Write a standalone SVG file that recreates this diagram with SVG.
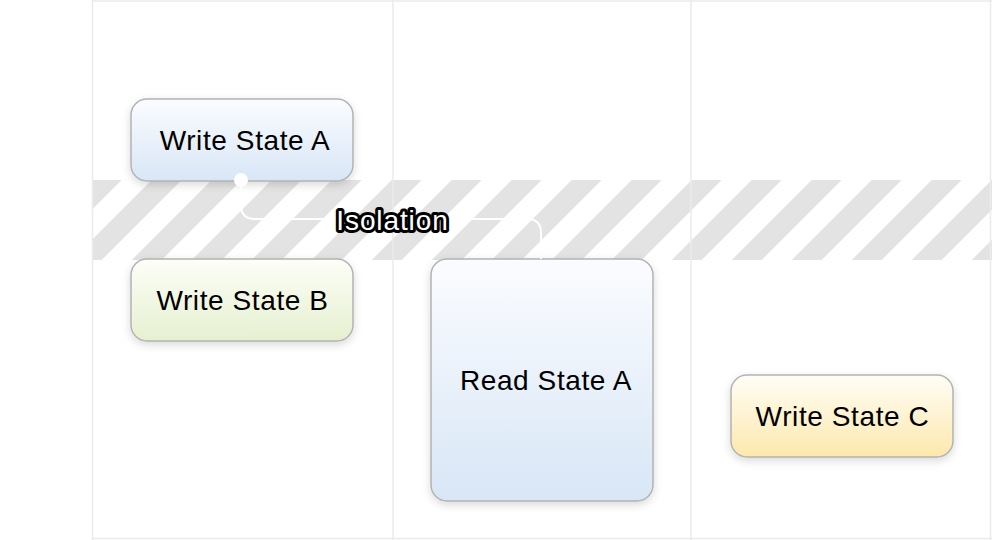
<svg xmlns="http://www.w3.org/2000/svg" width="992" height="540" viewBox="0 0 992 540">
  <defs>
    <pattern id="stripes" width="60" height="80" patternUnits="userSpaceOnUse" patternTransform="translate(31.7,180) skewX(-45)">
      <rect x="0" y="0" width="30" height="80" fill="#e3e3e3"/>
    </pattern>
    <linearGradient id="gBlue" x1="0" y1="0" x2="0" y2="1">
      <stop offset="0" stop-color="#fbfcff"/>
      <stop offset="1" stop-color="#d8e6f6"/>
    </linearGradient>
    <linearGradient id="gGreen" x1="0" y1="0" x2="0" y2="1">
      <stop offset="0" stop-color="#fdfef8"/>
      <stop offset="1" stop-color="#e6f0d0"/>
    </linearGradient>
    <linearGradient id="gYellow" x1="0" y1="0" x2="0" y2="1">
      <stop offset="0" stop-color="#fffdf6"/>
      <stop offset="1" stop-color="#fde8ad"/>
    </linearGradient>
    <filter id="shadow" x="-20%" y="-20%" width="140%" height="150%">
      <feDropShadow dx="0" dy="3" stdDeviation="4" flood-color="#000" flood-opacity="0.15"/>
    </filter>
  </defs>
  <style>
    .grid { stroke: #ebebeb; stroke-width: 1.5; fill: none; }
    .node rect { stroke: #b3b3b3; stroke-width: 1.5; filter: url(#shadow); }
    .node text { font-family: "Liberation Sans", Arial, sans-serif; font-size: 28px; letter-spacing: 0.6px; fill: #000; text-anchor: middle; }
    .conn { stroke: #ffffff; stroke-width: 2; fill: none; }
    .label { font-family: "Liberation Sans", Arial, sans-serif; font-size: 28px; letter-spacing: 0.9px; fill: #ffffff; stroke: #000; stroke-width: 6; stroke-linejoin: round; paint-order: stroke; text-anchor: middle; }
  </style>
  <rect width="992" height="540" fill="#ffffff"/>
  <rect x="93" y="180" width="899" height="80" fill="url(#stripes)"/>
  <g id="grid">
    <line class="grid" x1="93" y1="1" x2="992" y2="1"/>
    <line class="grid" x1="93" y1="538.5" x2="992" y2="538.5"/>
    <line class="grid" x1="92.5" y1="0" x2="92.5" y2="540"/>
    <line class="grid" x1="393" y1="0" x2="393" y2="540"/>
    <line class="grid" x1="691" y1="0" x2="691" y2="540"/>
    <line class="grid" x1="990.5" y1="0" x2="990.5" y2="540"/>
  </g>
  <g id="node-write-a" class="node">
    <rect x="131" y="99" width="222" height="82" rx="16" fill="url(#gBlue)"/>
    <text x="245" y="150">Write State A</text>
  </g>
  <g id="node-write-b" class="node">
    <rect x="131" y="259" width="222" height="82" rx="16" fill="url(#gGreen)"/>
    <text x="242.5" y="310">Write State B</text>
  </g>
  <g id="node-read-a" class="node">
    <rect x="431" y="259" width="222" height="242" rx="16" fill="url(#gBlue)"/>
    <text x="546" y="390">Read State A</text>
  </g>
  <g id="node-write-c" class="node">
    <rect x="731" y="375" width="222" height="82" rx="16" fill="url(#gYellow)"/>
    <text x="842.5" y="426">Write State C</text>
  </g>
  <g id="connectors">
    <path class="conn" d="M241,180 V205 Q241,219 255,219 H527 Q541,219 541,233 V259"/>
    <circle cx="241" cy="180" r="7" fill="#ffffff"/>
    <text class="label" x="392.5" y="230">Isolation</text>
  </g>
</svg>
